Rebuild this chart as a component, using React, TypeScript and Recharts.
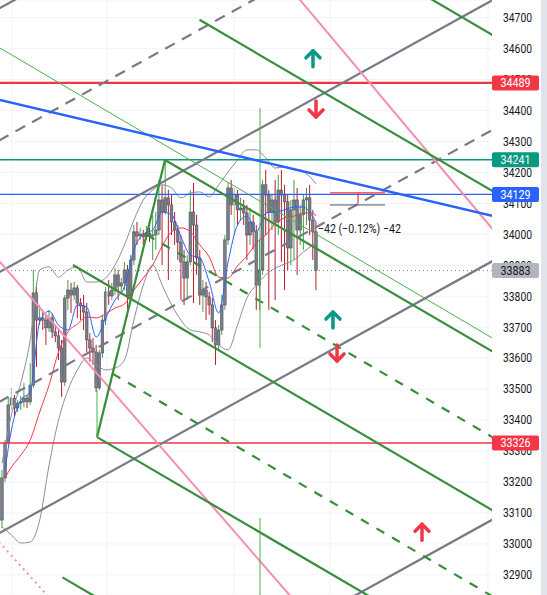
import React from "react";
import {
  ComposedChart,
  Bar,
  Line,
  XAxis,
  YAxis,
  CartesianGrid,
  ReferenceLine,
  ReferenceDot,
} from "recharts";

// candle index 0..100 (one per bar)
const candleIdx = Array.from({ length: 101 }, (_, i) => i);

const opens = [
  33077, 33213, 33326, 33449, 33471, 33439, 33455, 33459, 33471, 33459,
  33513, 33811, 33723, 33730, 33723, 33698, 33730, 33685, 33672, 33633,
  33523, 33794, 33820, 33804, 33827, 33778, 33769, 33749, 33659, 33633,
  33620, 33504, 33617, 33723, 33814, 33801, 33820, 33869, 33833, 33843,
  33885, 33801, 33917, 34008, 33995, 34001, 33992, 34004, 33995, 33998,
  34014, 34111, 34072, 34118, 34095, 34040, 34014, 33975, 33911, 33859,
  33911, 34072, 34030, 33924, 33804, 33820, 33798, 33772, 33698, 33643,
  33691, 33772, 33982, 34150, 34095, 34127, 34079, 34085, 34069, 33998,
  34040, 34008, 33836, 33885, 34160, 34127, 34072, 34111, 34040, 34143,
  34127, 34105, 33956, 34079, 34111, 34014, 34063, 34111, 34118, 34046,
  34008,
];
const highs = [
  33239, 33336, 33475, 33504, 33481, 33465, 33478, 33520, 33481, 33584,
  33885, 33843, 33772, 33749, 33740, 33756, 33743, 33707, 33691, 33659,
  33804, 33853, 33843, 33846, 33836, 33794, 33804, 33778, 33681, 33665,
  33643, 33627, 33740, 33830, 33853, 33843, 33891, 33885, 33859, 33911,
  33901, 33933, 34030, 34040, 34021, 34014, 34027, 34021, 34063, 34072,
  34176, 34160, 34240, 34143, 34127, 34072, 34030, 33998, 33950, 33933,
  34143, 34166, 34063, 33950, 33853, 33846, 33814, 33794, 33723, 33707,
  33804, 33998, 34169, 34176, 34150, 34143, 34118, 34111, 34095, 34085,
  34063, 34030, 33982, 34176, 34208, 34143, 34127, 34176, 34192, 34208,
  34160, 34127, 34111, 34176, 34150, 34095, 34127, 34150, 34160, 34079,
  34040,
];
const lows = [
  33051, 33200, 33320, 33433, 33410, 33426, 33433, 33442, 33439, 33449,
  33504, 33572, 33707, 33691, 33643, 33685, 33665, 33652, 33594, 33475,
  33510, 33756, 33746, 33788, 33730, 33723, 33691, 33620, 33588, 33578,
  33491, 33497, 33601, 33707, 33772, 33788, 33804, 33788, 33814, 33820,
  33733, 33788, 33901, 33966, 33982, 33966, 33982, 33975, 33917, 33950,
  33998, 33901, 34063, 33853, 33998, 33966, 33917, 33788, 33772, 33788,
  33901, 33778, 33869, 33772, 33749, 33723, 33740, 33652, 33578, 33627,
  33675, 33756, 33966, 34063, 33998, 34030, 34046, 34030, 33917, 33966,
  33950, 33756, 33756, 33869, 33998, 33756, 34014, 33788, 33998, 33911,
  33820, 33885, 33901, 33917, 33869, 33966, 33950, 34030, 33998, 33917,
  33820,
];
const closes = [
  33213, 33326, 33449, 33471, 33439, 33455, 33459, 33471, 33459, 33513,
  33811, 33723, 33730, 33723, 33698, 33730, 33685, 33672, 33633, 33523,
  33794, 33820, 33804, 33827, 33778, 33769, 33749, 33659, 33633, 33620,
  33504, 33617, 33723, 33814, 33801, 33820, 33869, 33833, 33843, 33885,
  33801, 33917, 34008, 33995, 34001, 33992, 34004, 33995, 33998, 34014,
  34111, 34072, 34118, 34095, 34040, 34014, 33975, 33911, 33859, 33911,
  34072, 34030, 33924, 33804, 33820, 33798, 33772, 33698, 33643, 33691,
  33772, 33982, 34150, 34095, 34127, 34079, 34085, 34069, 33998, 34040,
  34008, 33836, 33885, 34160, 34127, 34072, 34111, 34040, 34143, 34127,
  34105, 33956, 34079, 34111, 34014, 34063, 34111, 34118, 34046, 34008,
  33883,
];

// indicator readings [candle index, price]
const fastMA = [
  [1, 33240], [3, 33368], [6, 33465], [9, 33491], [12, 33717], [15, 33752],
  [18, 33707], [21, 33691], [24, 33772], [27, 33765], [30, 33668], [33, 33730],
  [36, 33788], [39, 33830], [42, 33950], [45, 34001], [48, 34014], [51, 34072],
  [54, 34063], [57, 33992], [60, 33933], [63, 33924], [66, 33846], [69, 33746],
  [72, 33911], [75, 34030], [78, 34059], [81, 34008], [84, 34069], [87, 34072],
  [90, 34079], [93, 34088], [96, 34088], [99, 34056], [100, 34040],
];
const slowMA = [
  [1, 33215], [3, 33248], [6, 33287], [9, 33336], [12, 33426], [15, 33513],
  [18, 33620], [21, 33685], [24, 33710], [27, 33733], [30, 33730], [33, 33743],
  [36, 33762], [39, 33775], [42, 33820], [45, 33859], [48, 33901], [51, 33962],
  [54, 34008], [57, 34021], [60, 34008], [63, 33966], [66, 33927], [69, 33862],
  [72, 33859], [75, 33898], [78, 33930], [81, 33972], [84, 33998], [87, 34034],
  [90, 34053], [93, 34059], [96, 34069], [99, 34069], [100, 34059],
];
const bandUpper = [
  [0, 33261], [3, 33417], [6, 33520], [9, 33659], [12, 33885], [15, 33895],
  [18, 33862], [21, 33885], [24, 33895], [27, 33846], [30, 33846], [33, 33859],
  [36, 33901], [39, 33966], [42, 34046], [45, 34111], [48, 34143], [51, 34160],
  [54, 34150], [57, 34118], [60, 34134], [63, 34137], [66, 34121], [69, 34160],
  [72, 34201], [75, 34240], [78, 34273], [81, 34273], [84, 34247], [87, 34214],
  [90, 34218], [93, 34208], [96, 34201], [99, 34176], [100, 34163],
];
const bandLower = [
  [0, 33055], [3, 33029], [6, 33003], [9, 33006], [12, 33077], [15, 33255],
  [18, 33400], [21, 33497], [24, 33562], [27, 33601], [30, 33578], [33, 33562],
  [36, 33568], [39, 33594], [42, 33723], [45, 33836], [48, 33901], [51, 33836],
  [54, 33772], [57, 33723], [60, 33691], [63, 33685], [66, 33675], [69, 33643],
  [72, 33627], [75, 33707], [78, 33794], [81, 33836], [84, 33869], [87, 33891],
  [90, 33904], [93, 33917], [96, 33943], [99, 33966], [100, 33975],
];

const yTicks = [
  32900, 33000, 33100, 33200, 33300, 33400, 33500, 33600, 33700, 33800,
  33900, 34000, 34100, 34200, 34300, 34400, 34500, 34600, 34700,
];
const gridX = [3.18, 33.44, 73.89, 104.46, 154.78];

// drawn levels
const resistLevel = 34489;
const greenLevel = 34241;
const blueLevel = 34129;
const supportLevel = 33326;
const lastPrice = 33883;

// drawings: [[index, price], [index, price]]
const grayChannelSolid = [
  [[-1, 34729], [157, 35614]],
  [[-1, 33877], [157, 34761]],
  [[-1, 33034], [157, 33918]],
  [[-1, 32198], [157, 33083]],
];
const grayChannelDashed = [
  [[-1, 34303], [157, 35188]],
  [[-1, 33458], [157, 34342]],
];
const blueTrend = [[-1, 34435], [157, 34058]];
const thinGreen = [[-1, 34604], [157, 33660]];
const pinkLines = [
  [[92.2, 34790], [157, 34008]],
  [[-1, 33915], [94.9, 32796]],
];
const pinkDotted = [[-1, 33007], [18.47, 32788]];
const forkSolid = [
  [[30.25, 33345], [51.9, 34240]],
  [[51.9, 34240], [157, 33617]],
  [[22.6, 33901], [157, 33104]],
  [[30.25, 33345], [126.75, 32773]],
  [[62.9, 34693], [157, 34135]],
  [[73.6, 35135], [157, 34639]],
  [[19.24, 32892], [63.06, 32632]],
];
const forkDashed = [
  [[46.05, 33999], [157, 33340]],
  [[35.19, 33550], [169.1, 32754]],
];
const verticalMarks = [
  [[82.17, 34408], [82.17, 33633]],
  [[82.17, 33084], [82.17, 32800]],
  [[30.25, 33497], [30.25, 33345]],
];
const rangeTop = [[104.46, 34134], [121.97, 34134]];
const rangeTick = [[113.4, 34134], [113.4, 34100]];
const rangeBase = [[104.46, 34095], [121.97, 34095]];

const upArrows = [
  [99.04, 34567, "#089981"],
  [105.4, 33723, "#089981"],
  [133.76, 33038, "#f23645"],
];
const downArrows = [
  [100.0, 34405, "#f23645"],
  [106.7, 33617, "#f23645"],
];
const rangeNote = { i: 100.6, p: 34017, text: "\u221242 (\u22120.12%) \u221242" };

const rows = candleIdx.map((i) => ({
  i,
  o: opens[i],
  h: highs[i],
  l: lows[i],
  c: closes[i],
})) as any[];
fastMA.forEach(([i, v]) => (rows[i].fast = v));
slowMA.forEach(([i, v]) => (rows[i].slow = v));
bandUpper.forEach(([i, v]) => (rows[i].bbU = v));
bandLower.forEach(([i, v]) => (rows[i].bbL = v));

const FONT = "Roboto, 'Liberation Sans', sans-serif";
const X_DOMAIN = [-0.64, 156.05];
const Y_DOMAIN = [32835, 34757];

const Candle = (props: any) => {
  const { x, y, width, height, payload } = props;
  const { o, h, l, c } = payload;
  const cx = x + width / 2;
  const k = h === l ? 0 : height / (h - l);
  const yO = y + (h - o) * k;
  const yC = y + (h - c) * k;
  const top = Math.min(yO, yC);
  const bh = Math.max(1, Math.abs(yO - yC));
  return (
    <g>
      <line x1={cx} x2={cx} y1={y} y2={y + height} stroke={c >= o ? "#43a047" : "#b71c2c"} strokeWidth={1} />
      <rect x={cx - 1.3} y={top} width={2.6} height={bh} fill="#7b7e88" stroke="#50535e" strokeWidth={0.6} />
    </g>
  );
};

const PriceTag = (props: any) => {
  const { viewBox, text, bg, fg } = props;
  const x = viewBox.x + viewBox.width;
  const y = viewBox.y;
  return (
    <g>
      <rect x={x} y={y - 7.5} width={47} height={15} rx={2} fill={bg} />
      <text x={x + 23.5} y={y + 4.3} textAnchor="middle" fill={fg} fontSize={12} fontFamily={FONT} textLength={30} lengthAdjust="spacingAndGlyphs">
        {text}
      </text>
    </g>
  );
};

const AxisTick = (props: any) => {
  const { x, y, payload } = props;
  return (
    <text x={x} y={y + 4.3} fill="#131722" fontSize={12} fontFamily={FONT} textLength={29} lengthAdjust="spacingAndGlyphs">
      {payload.value}
    </text>
  );
};

const Arrow = ({ cx, cy, color, up }: any) => {
  const s = up ? -1 : 1;
  return (
    <g stroke={color} strokeWidth={3.5} strokeLinecap="round" strokeLinejoin="round" fill="none">
      <line x1={cx} y1={cy - 8 * s} x2={cx} y2={cy + 8 * s} />
      <polyline points={`${cx - 7},${cy + 1 * s} ${cx},${cy + 8 * s} ${cx + 7},${cy + 1 * s}`} />
    </g>
  );
};

const seg = (s: number[][]) => [
  { x: s[0][0], y: s[0][1] },
  { x: s[1][0], y: s[1][1] },
];

export default function App() {
  return (
    <div style={{ position: "absolute", left: 0, top: 0, width: 547, height: 595, background: "#fff", overflow: "hidden" }}>
      <ComposedChart width={547} height={595} data={rows} margin={{ top: 0, right: 0, bottom: 0, left: 0 }}>
        <CartesianGrid vertical={false} stroke="#f0f3fa" />
        <XAxis type="number" dataKey="i" domain={X_DOMAIN} allowDataOverflow hide />
        <YAxis
          orientation="right"
          type="number"
          domain={Y_DOMAIN}
          allowDataOverflow
          ticks={yTicks}
          interval={0}
          width={55}
          axisLine={false}
          tickLine={false}
          tickSize={0}
          tickMargin={11}
          tick={<AxisTick />}
        />
        {gridX.map((gx) => (
          <ReferenceLine key={"g" + gx} x={gx} stroke="#f0f3fa" strokeWidth={1} />
        ))}

        <Line dataKey="bbU" type="monotone" connectNulls dot={false} activeDot={false} stroke="#8c8f99" strokeWidth={1} isAnimationActive={false} />
        <Line dataKey="bbL" type="monotone" connectNulls dot={false} activeDot={false} stroke="#8c8f99" strokeWidth={1} isAnimationActive={false} />
        <Line dataKey="slow" type="monotone" connectNulls dot={false} activeDot={false} stroke="#f23645" strokeWidth={1} isAnimationActive={false} />
        <Line dataKey="fast" type="monotone" connectNulls dot={false} activeDot={false} stroke="#2962ff" strokeWidth={1} isAnimationActive={false} />
        <Bar dataKey={(d: any) => [d.l, d.h]} barSize={3} shape={<Candle />} isAnimationActive={false} />

        <ReferenceLine y={lastPrice} stroke="#787b86" strokeDasharray="1 3" strokeWidth={1} />
        <ReferenceLine y={supportLevel} stroke="#f23645" strokeWidth={1.3} />
        <ReferenceLine y={blueLevel} stroke="#2962ff" strokeWidth={1.3} />
        <ReferenceLine y={greenLevel} stroke="#089981" strokeWidth={1.3} />
        <ReferenceLine y={resistLevel} stroke="#f23645" strokeWidth={2.2} />

        {grayChannelSolid.map((s, k) => (
          <ReferenceLine key={"gs" + k} segment={seg(s)} ifOverflow="hidden" stroke="#787b86" strokeWidth={2.2} />
        ))}
        {grayChannelDashed.map((s, k) => (
          <ReferenceLine key={"gd" + k} segment={seg(s)} ifOverflow="hidden" stroke="#787b86" strokeWidth={2.2} strokeDasharray="11 8" />
        ))}
        {pinkLines.map((s, k) => (
          <ReferenceLine key={"pk" + k} segment={seg(s)} ifOverflow="hidden" stroke="#f48fb1" strokeWidth={2} />
        ))}
        <ReferenceLine segment={seg(pinkDotted)} ifOverflow="hidden" stroke="#f48fb1" strokeWidth={2} strokeDasharray="2 4" />
        <ReferenceLine segment={seg(thinGreen)} ifOverflow="hidden" stroke="#4caf50" strokeWidth={1} />
        {forkSolid.map((s, k) => (
          <ReferenceLine key={"fs" + k} segment={seg(s)} ifOverflow="hidden" stroke="#388e3c" strokeWidth={2.2} />
        ))}
        {forkDashed.map((s, k) => (
          <ReferenceLine key={"fd" + k} segment={seg(s)} ifOverflow="hidden" stroke="#388e3c" strokeWidth={2.2} strokeDasharray="9 9" />
        ))}
        {verticalMarks.map((s, k) => (
          <ReferenceLine key={"vm" + k} segment={seg(s)} ifOverflow="hidden" stroke="#4caf50" strokeWidth={1} />
        ))}
        <ReferenceLine segment={seg(blueTrend)} ifOverflow="hidden" stroke="#2962ff" strokeWidth={2.5} />
        <ReferenceLine segment={seg(rangeTop)} ifOverflow="hidden" stroke="#f23645" strokeWidth={1.3} />
        <ReferenceLine segment={seg(rangeTick)} ifOverflow="hidden" stroke="#f23645" strokeWidth={1.3} />
        <ReferenceLine segment={seg(rangeBase)} ifOverflow="hidden" stroke="#50535e" strokeWidth={1} />

        {upArrows.map(([ai, ap, col], k) => (
          <ReferenceDot key={"ua" + k} x={ai as number} y={ap as number} r={0}
            shape={(p: any) => <Arrow cx={p.cx} cy={p.cy} color={col} up />} />
        ))}
        {downArrows.map(([ai, ap, col], k) => (
          <ReferenceDot key={"da" + k} x={ai as number} y={ap as number} r={0}
            shape={(p: any) => <Arrow cx={p.cx} cy={p.cy} color={col} up={false} />} />
        ))}
        <ReferenceDot x={rangeNote.i} y={rangeNote.p} r={0}
          shape={(p: any) => (
            <text x={p.cx} y={p.cy + 4} fill="#131722" fontSize={12} fontFamily={FONT} textLength={83} lengthAdjust="spacingAndGlyphs">
              {rangeNote.text}
            </text>
          )} />
      </ComposedChart>

      {/* price tags drawn on top of the axis labels */}
      <div style={{ position: "absolute", left: 0, top: 0 }}>
        <ComposedChart width={547} height={595} data={rows} margin={{ top: 0, right: 55, bottom: 0, left: 0 }}>
          <XAxis type="number" dataKey="i" domain={X_DOMAIN} allowDataOverflow hide />
          <YAxis type="number" domain={Y_DOMAIN} allowDataOverflow hide />
          <ReferenceLine y={lastPrice} strokeOpacity={0}
            label={<PriceTag text={String(lastPrice)} bg="#b2b5be" fg="#131722" />} />
          <ReferenceLine y={supportLevel} strokeOpacity={0}
            label={<PriceTag text={String(supportLevel)} bg="#f23645" fg="#fff" />} />
          <ReferenceLine y={blueLevel} strokeOpacity={0}
            label={<PriceTag text={String(blueLevel)} bg="#2962ff" fg="#fff" />} />
          <ReferenceLine y={greenLevel} strokeOpacity={0}
            label={<PriceTag text={String(greenLevel)} bg="#089981" fg="#fff" />} />
          <ReferenceLine y={resistLevel} strokeOpacity={0}
            label={<PriceTag text={String(resistLevel)} bg="#f23645" fg="#fff" />} />
        </ComposedChart>
      </div>
      <div style={{ position: "absolute", right: 0, top: 0, width: 6, height: 595, background: "#e0e3eb" }} />
    </div>
  );
}
